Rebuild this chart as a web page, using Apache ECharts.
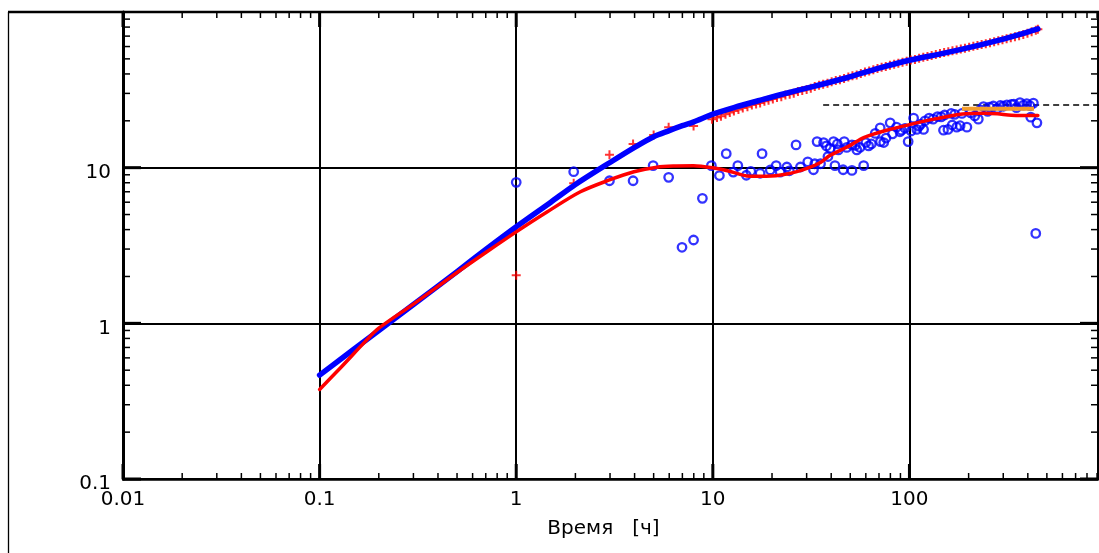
<!DOCTYPE html>
<html>
<head>
<meta charset="utf-8">
<script src="https://cdn.jsdelivr.net/npm/echarts@6/dist/echarts.min.js"></script>
<style>
  html, body { margin: 0; padding: 0; background: #fff; }
  #chart { width: 1099px; height: 553px; }
</style>
</head>
<body>
<div id="chart"></div>
<script>
// Axis ticks and labels (log scales)
const xTickValues = [0.01, 0.1, 1, 10, 100];
const xTickLabels = ['0.01', '0.1', '1', '10', '100'];
const yTickValues = [0.1, 1, 10];
const yTickLabels = ['0.1', '1', '10'];
const minorMultipliers = [2, 3, 4, 5, 6, 7, 8, 9];
const xDecades = [0.01, 0.1, 1, 10, 100];
const yDecades = [0.1, 1, 10];

// Pressure change, measured points [t, dp]
const pressurePoints = [
  [1.0, 2.04], [1.96, 7.94], [2.98, 12.1], [3.93, 14.2], [5.0, 16.2], [5.96, 18.2], [7.98, 18.5], [9.9, 20.5],
  [10.5, 21.0], [11, 21.4], [11.6, 22.0], [12.2, 22.6], [12.8, 23.1], [13.5, 23.6], [14.2, 24.2], [15, 24.6],
  [15.8, 25.3], [16.6, 25.6], [17.4, 26.0], [18.3, 26.7], [19.2, 27.1], [20.2, 27.6], [21.2, 28.2], [22.3, 28.6],
  [23.4, 29.3], [24.6, 29.6], [25.8, 30.1], [27.1, 30.8], [28.5, 31.3], [30, 31.8], [31.5, 32.4], [33, 33.2],
  [34.7, 33.9], [36.4, 34.3], [38.3, 34.9], [40.2, 35.6], [42.2, 36.3], [44.3, 36.7], [46.5, 37.4], [48.9, 38.2],
  [51.3, 38.9], [53.9, 39.4], [56.6, 40.2], [59.4, 41.1], [62.4, 41.8], [65.5, 42.6], [68.8, 43.3], [72.2, 44.1],
  [75.8, 44.6], [79.6, 45.5], [83.6, 46.2], [87.8, 46.8], [92.2, 47.6], [96.8, 48.3], [101.6, 49.1], [106.7, 49.6],
  [112, 50.4], [117.6, 51.2], [123.5, 51.8], [129.7, 52.6], [136.2, 53.4], [143, 54.1], [150.1, 54.9], [157.6, 55.6],
  [165.5, 56.4], [173.8, 57.1], [182.5, 57.9], [191.6, 58.6], [201.2, 59.3], [211.3, 60.2], [221.8, 61.0], [232.9, 61.8],
  [244.5, 62.6], [256.8, 63.5], [269.6, 64.4], [283.1, 65.3], [297.3, 66.4], [312.1, 67.2], [327.7, 68.3], [344.1, 69.4],
  [361.3, 70.5], [379.4, 71.7], [398.4, 72.9], [418.3, 74.6], [439.2, 76.4], [450, 77.6]
];

// Pressure derivative, measured points [t, dp']
const derivativePoints = [
  [1.0, 8.05], [1.96, 9.42], [2.98, 8.24], [3.93, 8.24], [4.97, 10.3], [5.96, 8.67], [6.97, 3.08], [7.98, 3.43],
  [8.85, 6.35], [9.83, 10.3], [10.8, 8.9], [11.7, 12.3], [12.7, 9.37], [13.4, 10.3], [14.8, 8.94], [15.6, 9.48],
  [17.4, 9.2], [17.8, 12.3], [19.6, 9.66], [21, 10.3], [22, 9.37], [23.8, 10.1], [24.5, 9.55], [26.5, 14.0],
  [27.9, 10.1], [30.4, 10.9], [32.5, 9.7], [33, 10.6], [33.9, 14.7], [35.3, 10.6], [36.6, 14.5], [37.8, 13.8],
  [38.5, 11.8], [39.5, 13.3], [41.1, 14.7], [41.8, 10.3], [43, 14.2], [43.5, 13.0], [46, 9.7], [46.6, 14.7],
  [48, 13.5], [51, 14.0], [51, 9.6], [53, 13.9], [54, 13.0], [56, 13.5], [58.5, 10.3], [60, 14.5], [62, 13.8],
  [64, 14.2], [67, 16.6], [71.2, 14.7], [71, 18], [74, 14.5], [76, 15.5], [79.8, 19.4], [82, 16.5], [86, 18.2],
  [89.5, 17], [91, 17.4], [95, 17.9], [98.5, 14.7], [102, 17.2], [105, 20.8], [109, 17.6], [112, 18.5], [114, 19],
  [118, 17.6], [120, 20], [126, 20.8], [132, 20.5], [139, 21.3], [145, 21.2], [149, 17.4], [151, 21.8], [157, 17.6],
  [163, 22.3], [165, 18.8], [170, 22], [174, 18.2], [181, 18.6], [185, 22.3], [196, 18.2], [205, 22.5], [215, 21.5],
  [224, 20.5], [230, 23.5], [238, 24.7], [250, 23], [255, 24.5], [267, 24.9], [280, 24], [290, 25.1], [300, 24.8],
  [313, 25.3], [330, 25.5], [340, 25.6], [350, 24.3], [365, 26.2], [380, 25.2], [395, 25.8], [410, 25.0],
  [414, 21.1], [427, 26.0], [445, 19.4], [439, 3.78]
];

// Model pressure curve
const pressureModel = [
  [0.1, 0.465], [0.2, 0.90], [0.3, 1.32], [0.5, 2.15], [0.7, 2.98], [1, 4.17], [1.5, 6.0], [2, 7.8],
  [3, 10.8], [4, 13.5], [5, 15.8], [6, 17.3], [7, 18.6], [8, 19.7], [10, 22.1], [13, 24.5], [17, 26.9],
  [22, 29.4], [33, 33.4], [48, 37.8], [70, 43.6], [100, 49], [150, 54.4], [200, 59], [300, 67], [450, 78]
];

// Model derivative curve
const derivativeModel = [
  [0.1, 0.376], [0.13, 0.53], [0.17, 0.76], [0.2, 0.93], [0.3, 1.33], [0.5, 2.12], [0.7, 2.85], [1, 3.87],
  [1.44, 5.21], [2.12, 7.0], [2.98, 8.34], [3.97, 9.42], [5.2, 10.07], [6.5, 10.25], [7.98, 10.3], [10.3, 9.9],
  [12.4, 9.42], [14.9, 8.85], [18.7, 8.8], [23.8, 9.1], [30.1, 9.9], [35.3, 10.8], [39.5, 12.0], [44.9, 13.0],
  [50, 13.9], [58.5, 15.6], [76.5, 17.4], [100, 18.9], [133, 20.5], [174, 21.9], [203, 22.3], [240, 22.4],
  [280, 22.2], [330, 21.7], [450, 21.6]
];

// Radial-flow stabilisation level and selected interval
const stabilisationLevel = [[36.4, 25.3], [910, 25.3]];
const selectedInterval = [[185, 23.9], [430, 23.9]];

const xMinorTicks = [];
xDecades.forEach(d => minorMultipliers.forEach(m => xMinorTicks.push([d * m, 1])));
const yMinorTicks = [];
yDecades.forEach(d => minorMultipliers.forEach(m => yMinorTicks.push([1, d * m])));
const xMajorTicks = xTickValues.map(v => [v, 1]);
const yMajorTicks = yTickValues.map(v => [1, v]);

function labelFor(values, labels) {
  return function (v) {
    for (let i = 0; i < values.length; i++) {
      if (Math.abs(Math.log10(values[i]) - Math.log10(v)) < 1e-6) return labels[i];
    }
    return '';
  };
}

function tickRenderer(axis, len, width) {
  return function (params, api) {
    const cs = params.coordSys;
    const p = api.coord([api.value(0), api.value(1)]);
    const style = { stroke: '#000', lineWidth: width };
    if (axis === 'x') {
      const b = cs.y + cs.height, t = cs.y;
      return { type: 'group', children: [
        { type: 'line', shape: { x1: p[0], y1: b, x2: p[0], y2: b - len }, style },
        { type: 'line', shape: { x1: p[0], y1: t, x2: p[0], y2: t + len }, style }
      ] };
    }
    const l = cs.x, r = cs.x + cs.width;
    return { type: 'group', children: [
      { type: 'line', shape: { x1: l, y1: p[1], x2: l + len, y2: p[1] }, style },
      { type: 'line', shape: { x1: r, y1: p[1], x2: r - len, y2: p[1] }, style }
    ] };
  };
}

const FONT = '"DejaVu Sans", sans-serif';
const chart = echarts.init(document.getElementById('chart'), null, { renderer: 'canvas' });

chart.setOption({
  animation: false,
  backgroundColor: '#fff',
  grid: {
    left: 123, right: 1, top: 12, bottom: 74,
    show: true, borderColor: '#000', borderWidth: 2, backgroundColor: 'transparent'
  },
  graphic: [
    { type: 'line', shape: { x1: 8.5, y1: 12, x2: 8.5, y2: 560 }, style: { stroke: '#000', lineWidth: 1.3 }, z: 10 },
    { type: 'line', shape: { x1: 8, y1: 12, x2: 1099, y2: 12 }, style: { stroke: '#000', lineWidth: 2.5 }, z: 10 }
  ],
  xAxis: {
    type: 'log', logBase: 10, min: 0.01, max: 910,
    name: 'Время   [ч]', nameLocation: 'middle', nameGap: 40,
    nameTextStyle: { fontFamily: FONT, fontSize: 20, color: '#000', padding: [0, 14, 0, 0] },
    axisLine: { show: true, lineStyle: { color: '#000', width: 2.5 } },
    axisTick: { show: false },
    axisLabel: {
      show: true, color: '#000', fontFamily: FONT, fontSize: 20, margin: 11,
      showMaxLabel: false, formatter: labelFor(xTickValues, xTickLabels)
    },
    splitLine: { show: true, lineStyle: { color: '#000', width: 2 } },
    minorTick: { show: false }, minorSplitLine: { show: false }
  },
  yAxis: {
    type: 'log', logBase: 10, min: 0.1, max: 100,
    axisLine: { show: true, lineStyle: { color: '#000', width: 3 } },
    axisTick: { show: false },
    axisLabel: {
      show: true, color: '#000', fontFamily: FONT, fontSize: 20, margin: 12,
      verticalAlign: 'top', lineHeight: 10,
      showMaxLabel: false, formatter: labelFor(yTickValues, yTickLabels)
    },
    splitLine: { show: true, lineStyle: { color: '#000', width: 2 } },
    minorTick: { show: false }, minorSplitLine: { show: false }
  },
  series: [
    {
      name: 'derivative', type: 'scatter', data: derivativePoints,
      symbol: 'circle', symbolSize: 8.5,
      itemStyle: { color: 'rgba(0,0,0,0)', borderColor: '#0000ff', borderWidth: 2.3 },
      z: 3, silent: true
    },
    {
      name: 'level', type: 'line', data: stabilisationLevel, showSymbol: false,
      lineStyle: { color: '#000', width: 1.5, type: [6, 4] }, z: 3, silent: true
    },
    {
      name: 'pressure', type: 'scatter', data: pressurePoints,
      symbol: 'path://M3.5,0H5.5V3.5H9V5.5H5.5V9H3.5V5.5H0V3.5H3.5Z', symbolSize: 9,
      itemStyle: { color: '#ff0000' }, z: 4, silent: true
    },
    {
      name: 'pressure model', type: 'line', data: pressureModel, showSymbol: false, smooth: 0.3,
      lineStyle: { color: '#0000ff', width: 5.5, cap: 'round', join: 'round' }, z: 5, silent: true
    },
    {
      name: 'derivative model', type: 'line', data: derivativeModel, showSymbol: false, smooth: 0.3,
      lineStyle: { color: '#ff0000', width: 3.5, cap: 'round', join: 'round' }, z: 6, silent: true
    },
    {
      name: 'interval', type: 'line', data: selectedInterval, showSymbol: false,
      lineStyle: { color: '#f39c2c', width: 4 }, z: 7, silent: true
    },
    { type: 'custom', data: xMinorTicks, renderItem: tickRenderer('x', 6, 1.5), z: 8, silent: true, clip: false },
    { type: 'custom', data: yMinorTicks, renderItem: tickRenderer('y', 7, 1.5), z: 8, silent: true, clip: false },
    { type: 'custom', data: xMajorTicks, renderItem: tickRenderer('x', 15, 3), z: 8, silent: true, clip: false },
    { type: 'custom', data: yMajorTicks, renderItem: tickRenderer('y', 18, 3), z: 8, silent: true, clip: false }
  ]
});
</script>
</body>
</html>
